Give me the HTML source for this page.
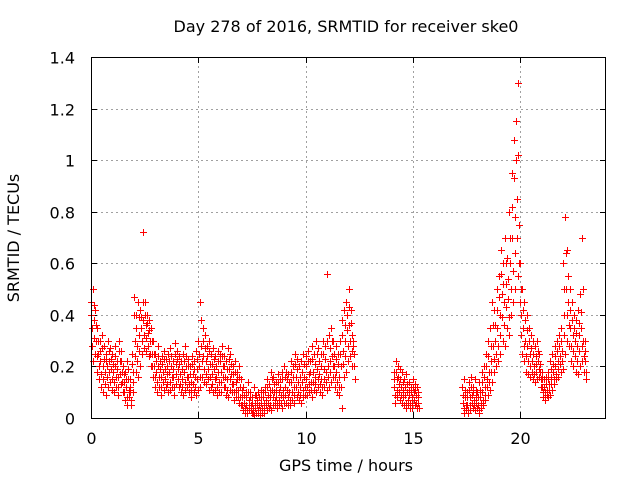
<!DOCTYPE html>
<html><head><meta charset="utf-8"><style>
html,body{margin:0;padding:0;background:#fff;}
svg{display:block;font-family:"DejaVu Sans","Liberation Sans",sans-serif;}
</style></head><body>
<svg id="chart" width="640" height="480" viewBox="0 0 640 480">
<text x="346" y="32" font-size="16" text-anchor="middle" fill="#000">Day 278 of 2016, SRMTID for receiver ske0</text>
<text x="346" y="471" font-size="16" text-anchor="middle">GPS time / hours</text>
<text transform="translate(19,238) rotate(-90)" font-size="16" text-anchor="middle">SRMTID / TECUs</text>
<g id="grid"></g>
<g id="ticks"></g>
<g id="marks"></g>
<rect x="91.5" y="57.5" width="514" height="361" fill="none" stroke="#000" stroke-width="1" shape-rendering="crispEdges"/>
</svg>
<script>
const xTicks = [0,5,10,15,20];
const yTicks = [0,0.2,0.4,0.6,0.8,1,1.2,1.4];
const yTickLabels = ["0","0.2","0.4","0.6","0.8","1","1.2","1.4"];
const segStarts = [0.0, 14.1, 17.3];
const segStep = 0.1;
const hiA = [.45,.50,.42,.35,.30,.32,.28,.25,.30,.27,.25,.28,.22,.30,.26,.20,.18,.22,.15,.25,.47,.40,.45,.42,.72,.45,.40,.38,.35,.30,.25,.28,.22,.24,.26,.23,.25,.27,.22,.29,.26,.24,.22,.25,.28,.23,.20,.24,.22,.26,.30,.45,.35,.32,.28,.30,.25,.27,.24,.26,.25,.28,.24,.22,.27,.25,.20,.22,.18,.20,.15,.12,.10,.14,.10,.08,.12,.09,.10,.11,.10,.12,.15,.13,.18,.16,.14,.17,.15,.18,.20,.18,.17,.22,.20,.25,.23,.20,.22,.25,.24,.26,.22,.28,.25,.30,.27,.25,.30,.28,.56,.32,.35,.30,.28,.25,.30,.38,.42,.45,.50,.42,.30];
const q1A = [.40,.44,.36,.30,.26,.27,.23,.22,.26,.23,.21,.24,.19,.26,.22,.17,.15,.19,.12,.21,.40,.35,.39,.39,.45,.40,.37,.34,.30,.25,.22,.24,.19,.21,.23,.20,.22,.24,.19,.25,.23,.21,.19,.22,.24,.20,.17,.21,.19,.23,.25,.38,.30,.27,.24,.26,.21,.23,.20,.22,.22,.24,.20,.19,.23,.21,.17,.18,.15,.16,.11,.09,.08,.10,.08,.06,.09,.07,.08,.08,.08,.10,.12,.11,.15,.13,.11,.14,.12,.15,.16,.15,.14,.18,.16,.21,.19,.16,.18,.21,.20,.22,.18,.23,.21,.25,.22,.20,.25,.23,.30,.27,.30,.25,.23,.21,.25,.32,.36,.40,.43,.37,.28];
const midA = [.35,.38,.30,.25,.22,.20,.18,.20,.22,.19,.18,.20,.16,.22,.18,.14,.12,.15,.10,.18,.30,.28,.32,.35,.38,.36,.33,.30,.25,.20,.18,.20,.16,.18,.19,.17,.18,.20,.16,.21,.19,.17,.15,.18,.20,.16,.14,.17,.16,.19,.20,.28,.24,.22,.19,.21,.17,.19,.16,.18,.18,.20,.16,.15,.19,.17,.13,.14,.11,.12,.08,.06,.05,.07,.05,.04,.06,.05,.05,.06,.06,.07,.09,.08,.11,.10,.08,.10,.09,.11,.12,.11,.10,.14,.12,.16,.14,.12,.14,.16,.15,.17,.14,.18,.16,.19,.17,.15,.19,.18,.20,.22,.24,.20,.18,.16,.20,.26,.30,.34,.36,.32,.25];
const q3A = [.28,.31,.24,.20,.17,.15,.13,.16,.18,.15,.14,.16,.12,.17,.14,.10,.08,.11,.07,.14,.24,.22,.26,.30,.32,.31,.28,.25,.20,.16,.14,.16,.12,.14,.15,.13,.14,.16,.12,.17,.15,.13,.12,.14,.16,.13,.11,.13,.12,.15,.16,.22,.19,.17,.15,.16,.13,.15,.12,.14,.14,.16,.12,.11,.15,.13,.10,.11,.08,.08,.05,.04,.03,.05,.03,.02,.04,.03,.03,.04,.04,.05,.06,.05,.08,.07,.06,.07,.06,.08,.09,.08,.07,.10,.09,.12,.10,.09,.11,.12,.12,.13,.11,.14,.13,.15,.13,.12,.15,.14,.16,.18,.20,.16,.14,.12,.12,.21,.24,.28,.30,.26,.20];
const loA = [.22,.25,.18,.15,.12,.10,.09,.12,.14,.11,.10,.12,.09,.13,.10,.07,.05,.08,.05,.10,.18,.16,.20,.25,.27,.26,.24,.20,.16,.12,.10,.12,.09,.11,.12,.10,.11,.12,.09,.13,.12,.10,.09,.11,.12,.10,.08,.10,.09,.11,.12,.16,.14,.13,.11,.12,.10,.11,.09,.10,.10,.12,.09,.08,.11,.10,.07,.08,.06,.05,.03,.02,.02,.03,.02,.01,.02,.02,.01,.02,.02,.03,.04,.03,.05,.05,.04,.05,.04,.06,.06,.05,.05,.07,.06,.08,.07,.06,.08,.09,.09,.10,.08,.11,.10,.12,.10,.09,.12,.11,.12,.14,.16,.12,.10,.09,.04,.16,.18,.22,.24,.20,.15];
const hiB = [.18,.22,.20,.19,.18,.15,.17,.14,.12,.15,.13,.12];
const q1B = [.15,.18,.16,.15,.14,.12,.13,.11,.10,.12,.11,.10];
const midB = [.12,.15,.13,.12,.11,.09,.10,.09,.08,.10,.09,.08];
const q3B = [.09,.11,.10,.09,.08,.06,.07,.06,.06,.07,.06,.06];
const loB = [.06,.08,.07,.06,.05,.04,.05,.04,.04,.05,.04,.04];
const hiC = [.12,.15,.10,.14,.16,.12,.15,.10,.14,.18,.20,.25,.30,.35,.45,.42,.50,.55,.65,.60,.70,.62,.80,.95,1.08,1.15,1.30,.60,.50,.45,.40,.35,.32,.30,.28,.30,.25,.18,.15,.16,.18,.22,.25,.28,.30,.32,.35,.60,.78,.65,.50,.45,.40,.38,.42,.48,.70,.30];
const q1C = [.09,.11,.08,.11,.12,.10,.11,.08,.11,.14,.16,.20,.24,.28,.36,.36,.42,.47,.56,.52,.60,.54,.70,.82,.93,1.0,1.02,.50,.42,.38,.34,.30,.27,.25,.24,.26,.21,.15,.12,.13,.15,.19,.21,.24,.26,.28,.30,.50,.64,.55,.42,.38,.35,.33,.37,.41,.50,.26];
const midC = [.06,.08,.05,.08,.09,.07,.08,.05,.08,.10,.12,.15,.18,.22,.28,.30,.35,.40,.48,.45,.52,.46,.60,.70,.78,.85,.75,.40,.35,.30,.28,.25,.22,.20,.21,.22,.18,.12,.10,.11,.13,.16,.18,.20,.22,.24,.26,.40,.50,.45,.35,.32,.30,.28,.32,.35,.30,.22];
const q3C = [.04,.05,.03,.05,.06,.05,.06,.03,.06,.07,.09,.12,.14,.18,.23,.25,.28,.32,.39,.36,.43,.39,.50,.57,.64,.70,.60,.32,.28,.24,.22,.20,.18,.17,.18,.19,.15,.10,.08,.09,.11,.13,.15,.17,.19,.21,.22,.32,.40,.36,.28,.26,.24,.22,.26,.28,.24,.18];
const loC = [.02,.03,.02,.03,.04,.03,.04,.02,.04,.05,.07,.09,.11,.14,.18,.20,.22,.25,.30,.28,.35,.32,.40,.45,.50,.55,.45,.25,.22,.18,.17,.16,.15,.14,.15,.16,.12,.08,.07,.08,.09,.11,.13,.15,.16,.18,.19,.25,.30,.28,.22,.20,.18,.17,.20,.22,.18,.15];

const X0=91, X1=606, Y0=418, Y1=57;
const xS = t => X0 + t*(X1-X0)/24;
const yS = v => Y0 - v*(Y0-Y1)/1.4;
const NS="http://www.w3.org/2000/svg";
const grid=document.getElementById('grid'), ticks=document.getElementById('ticks'), marks=document.getElementById('marks');
function mk(tag, attrs, parent){const e=document.createElementNS(NS,tag);for(const k in attrs)e.setAttribute(k,attrs[k]);parent.appendChild(e);return e;}

xTicks.forEach(t=>{
  const x=Math.round(xS(t))+0.5;
  if(t>0){const g=mk('line',{x1:x,x2:x,y1:Y0,y2:Y1,stroke:'#a0a0a0','stroke-dasharray':'2,3','shape-rendering':'crispEdges'},grid);
  
  }
  mk('line',{x1:x,x2:x,y1:Y0,y2:Y0-6,stroke:'#000','shape-rendering':'crispEdges'},ticks);
  mk('line',{x1:x,x2:x,y1:Y1,y2:Y1+6,stroke:'#000','shape-rendering':'crispEdges'},ticks);
  const l=mk('text',{x:x,y:Y0+26,'font-size':16,'text-anchor':'middle'},ticks);
  l.textContent=t;
  
  
});
yTicks.forEach((v,i)=>{
  const y=Math.round(yS(v))+0.5;
  if(v>0&&v<1.4){const g=mk('line',{x1:X0,x2:X1,y1:y,y2:y,stroke:'#a0a0a0','stroke-dasharray':'2,3','shape-rendering':'crispEdges'},grid);
  
  }
  mk('line',{x1:X0,x2:X0+6,y1:y,y2:y,stroke:'#000','shape-rendering':'crispEdges'},ticks);
  mk('line',{x1:X1,x2:X1-6,y1:y,y2:y,stroke:'#000','shape-rendering':'crispEdges'},ticks);
  const l=mk('text',{x:X0-16,y:y+6,'font-size':16,'text-anchor':'end'},ticks);
  l.textContent=yTickLabels[i];
  
  
});

let d='';
function plus(t,v){const x=Math.round(xS(t))+0.5,y=Math.round(yS(v))+0.5;d+=`M${x-3.5} ${y}h7M${x} ${y-3.5}v7`;}
const segs=[[hiA,q1A,midA,q3A,loA],[hiB,q1B,midB,q3B,loB],[hiC,q1C,midC,q3C,loC]];
segs.forEach((s,si)=>{
  s.forEach((arr,ai)=>{
    arr.forEach((v,i)=>{plus(segStarts[si]+i*segStep+ai*0.02, v);});
  });
});
const p=mk('path',{d:d,stroke:'#ff0000','stroke-width':1,fill:'none','shape-rendering':'crispEdges'},marks);


</script>
</body></html>
